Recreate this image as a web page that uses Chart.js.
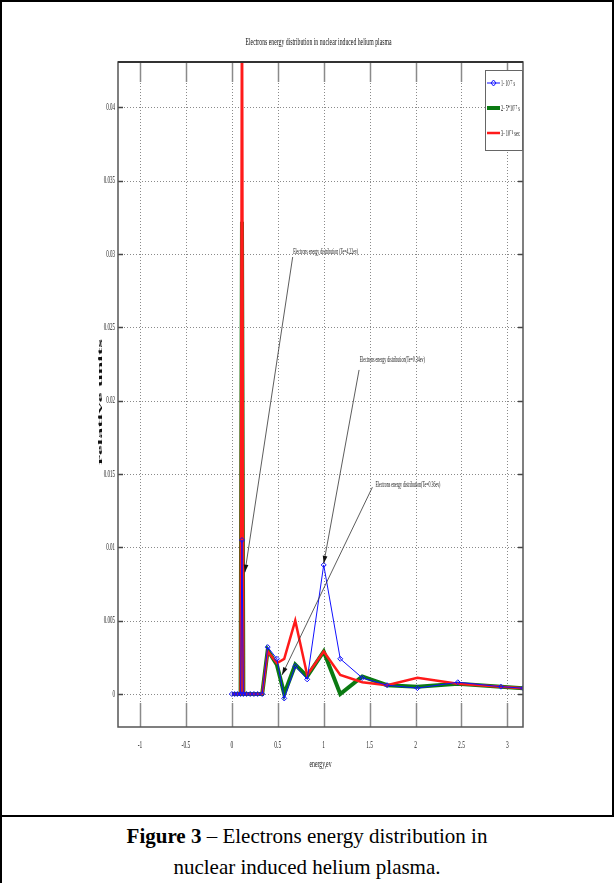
<!DOCTYPE html>
<html>
<head>
<meta charset="utf-8">
<script src="https://cdn.jsdelivr.net/npm/chart.js@4/dist/chart.umd.min.js"></script>
<style>
    body { margin: 0; background: #fff; width: 614px; height: 883px; overflow: hidden; position: relative; }
    #frame { position: absolute; left: 0; top: 0; width: 610px; height: 813px; border: 2px solid #000; }
    #leftRule { position: absolute; left: 0; top: 813px; width: 2px; height: 70px; background: #000; }
    #chart { position: absolute; left: 0; top: 0; }
    .caption { position: absolute; left: 0; width: 614px; text-align: center; font-family: 'Liberation Serif', serif; font-size: 21px; color: #000; }
</style>
</head>
<body>
<div id="frame"></div>
<div id="leftRule"></div>
<canvas id="chart" width="614" height="800"></canvas>
<div class="caption" style="top: 824px;"><b>Figure 3</b> – Electrons energy distribution in</div>
<div class="caption" style="top: 855px;">nuclear induced helium plasma.</div>

<script>
// ========== Data ==========

const energy = [0.0, 0.03, 0.06, 0.095, 0.11, 0.125, 0.16, 0.2, 0.24, 0.28, 0.33, 0.39, 0.49, 0.57, 0.69, 0.82, 1.0, 1.18, 1.42, 1.69, 2.02, 2.46, 2.93, 3.17];

const series1 = [0, 0, 0, 0, 0.0105, 0, 0, 0, 0, 0, 0, 0.0032, 0.0024, -0.0003, 0.0019, 0.0010, 0.0088, 0.0024, 0.0011, 0.0006, 0.0004, 0.0008, 0.0005, 0.0004];
const series2 = [0, 0, 0, 0, 0.0322, 0, 0, 0, 0, 0, 0, 0.0030, 0.0020, 0.0000, 0.0020, 0.0012, 0.0029, 0.0000, 0.0012, 0.0006, 0.0005, 0.0007, 0.0005, 0.0004];
const series3 = [0, 0, 0, 0, 0.0500, 0, 0, 0, 0, 0, 0, 0.0029, 0.0021, 0.0024, 0.0050, 0.0013, 0.0029, 0.0013, 0.0008, 0.0006, 0.0011, 0.0007, 0.0005, 0.0004];

const seriesLabels = ['1- 10⁻⁷ s', '2- 5*10⁻⁷ s', '3- 10⁻⁶ sec'];

const xTicks = [-1, -0.5, 0, 0.5, 1, 1.5, 2, 2.5, 3];
const yTicks = [0, 0.005, 0.01, 0.015, 0.02, 0.025, 0.03, 0.035, 0.04];

// annotation: text, text anchor (energy, value), arrow start, arrow tip
const noteTexts = [
    'Electrons energy distribution (Te=4.22ev)',
    'Electrons energy distribution(Te=0.34ev)',
    'Electrons energy distribution(Te=0.36ev)'
];
const noteAnchors = [[0.667, 0.0302], [1.392, 0.0228], [1.563, 0.0143]];
const noteStarts = [[0.662, 0.0298], [1.385, 0.0221], [1.530, 0.0141]];
const noteTips = [[0.142, 0.0083], [1.0, 0.0089], [0.546, 0.0013]];

// ========== Helpers ==========

function pointsOf(values) {
    return energy.map((e, i) => ({ x: e, y: values[i] }));
}

// draw text squeezed/stretched horizontally by a factor
function squish(ctx, text, x, y, sx, align) {
    ctx.save();
    ctx.translate(x, y);
    ctx.scale(sx, 1);
    ctx.textAlign = align;
    ctx.fillText(text, 0, 0);
    ctx.restore();
}

function fitText(ctx, text, x, y, width, align) {
    squish(ctx, text, x, y, width / ctx.measureText(text).width, align);
}

function tickText(v) {
    return String(Number(v.toFixed(3)));
}

const SERIF = "'Liberation Serif', serif";

// ========== Plot decoration ==========

const decor = {
    id: 'decor',
    beforeDatasetsDraw(chart) {
        const ctx = chart.ctx;
        const a = chart.chartArea;
        const xs = chart.scales.x, ys = chart.scales.y;
        ctx.save();
        // dotted grid
        ctx.strokeStyle = '#8a8a8a';
        ctx.lineWidth = 1;
        ctx.setLineDash([1, 2]);
        xTicks.forEach(v => {
            const px = Math.round(xs.getPixelForValue(v)) + 0.5;
            ctx.beginPath(); ctx.moveTo(px, a.top); ctx.lineTo(px, a.bottom); ctx.stroke();
        });
        yTicks.forEach(v => {
            const py = Math.round(ys.getPixelForValue(v)) + 0.5;
            ctx.beginPath(); ctx.moveTo(a.left, py); ctx.lineTo(a.right, py); ctx.stroke();
        });
        ctx.setLineDash([]);
        // inside ticks
        ctx.strokeStyle = '#8a8a8a';
        ctx.lineWidth = 1.5;
        xTicks.forEach(v => {
            const px = Math.round(xs.getPixelForValue(v)) + 0.5;
            ctx.beginPath(); ctx.moveTo(px, a.bottom); ctx.lineTo(px, a.bottom - 24); ctx.stroke();
            ctx.beginPath(); ctx.moveTo(px, a.top); ctx.lineTo(px, a.top + 20); ctx.stroke();
        });
        ctx.strokeStyle = '#444';
        yTicks.forEach(v => {
            const py = Math.round(ys.getPixelForValue(v)) + 0.5;
            ctx.beginPath(); ctx.moveTo(a.left, py); ctx.lineTo(a.left + 5, py); ctx.stroke();
            ctx.beginPath(); ctx.moveTo(a.right, py); ctx.lineTo(a.right - 5, py); ctx.stroke();
        });

        // tick labels, narrow like the original
        ctx.fillStyle = '#222';
        ctx.font = '10px ' + SERIF;
        ctx.textBaseline = 'middle';
        yTicks.forEach(v => {
            squish(ctx, tickText(v), a.left - 3, ys.getPixelForValue(v), 0.5, 'right');
        });
        xTicks.forEach(v => {
            squish(ctx, tickText(v), xs.getPixelForValue(v), a.bottom + 18, 0.55, 'center');
        });
        ctx.restore();
    },
    afterDatasetsDraw(chart) {
        const ctx = chart.ctx;
        const a = chart.chartArea;
        const xs = chart.scales.x, ys = chart.scales.y;
        ctx.save();

        // annotations with arrows
        ctx.strokeStyle = '#333';
        ctx.fillStyle = '#111';
        ctx.lineWidth = 0.8;
        noteTexts.forEach((t, i) => {
            const sx = xs.getPixelForValue(noteStarts[i][0]);
            const sy = ys.getPixelForValue(noteStarts[i][1]);
            const tx = xs.getPixelForValue(noteTips[i][0]);
            const ty = ys.getPixelForValue(noteTips[i][1]);
            ctx.beginPath(); ctx.moveTo(sx, sy); ctx.lineTo(tx, ty); ctx.stroke();
            const ang = Math.atan2(ty - sy, tx - sx);
            ctx.beginPath();
            ctx.moveTo(tx, ty);
            ctx.lineTo(tx - 8 * Math.cos(ang - 0.3), ty - 8 * Math.sin(ang - 0.3));
            ctx.lineTo(tx - 8 * Math.cos(ang + 0.3), ty - 8 * Math.sin(ang + 0.3));
            ctx.closePath();
            ctx.fill();

            ctx.font = '9px ' + SERIF;
            ctx.textBaseline = 'middle';
            fitText(ctx, t, xs.getPixelForValue(noteAnchors[i][0]), ys.getPixelForValue(noteAnchors[i][1]), 65, 'left');
        });

        // plot box
        ctx.strokeStyle = '#555';
        ctx.lineWidth = 1.5;
        ctx.strokeRect(a.left, a.top, a.right - a.left, a.bottom - a.top);
        ctx.strokeStyle = '#333';
        ctx.lineWidth = 2;
        ctx.beginPath(); ctx.moveTo(a.left, a.top); ctx.lineTo(a.right, a.top); ctx.stroke();

        // legend inside top right
        const lx = a.right - 38, ly = a.top + 8, lw = 37, lh = 80;
        ctx.fillStyle = '#fff';
        ctx.fillRect(lx, ly, lw, lh);
        ctx.strokeStyle = '#666';
        ctx.lineWidth = 1;
        ctx.strokeRect(lx + 0.5, ly + 0.5, lw, lh);
        chart.data.datasets.forEach((ds, i) => {
            const yy = ly + 13 + i * 25;
            ctx.strokeStyle = ds.borderColor;
            ctx.lineWidth = ds.borderWidth;
            ctx.beginPath(); ctx.moveTo(lx + 2, yy); ctx.lineTo(lx + 15, yy); ctx.stroke();
            if (ds.pointRadius > 0) {
                ctx.lineWidth = 1;
                ctx.beginPath();
                ctx.moveTo(lx + 8.5, yy - 3); ctx.lineTo(lx + 11, yy);
                ctx.lineTo(lx + 8.5, yy + 3); ctx.lineTo(lx + 6, yy); ctx.closePath();
                ctx.stroke();
            }
            ctx.fillStyle = '#111';
            ctx.font = '9px ' + SERIF;
            ctx.textBaseline = 'middle';
            fitText(ctx, ds.label, lx + 16, yy + 1, i === 0 ? 14 : 19, 'left');
        });

        ctx.restore();
    },
    afterDraw(chart) {
        const ctx = chart.ctx;
        const a = chart.chartArea;
        ctx.save();
        ctx.fillStyle = '#111';
        ctx.textBaseline = 'middle';
        // title
        ctx.font = '11px ' + SERIF;
        fitText(ctx, 'Electrons energy distribution in nuclear induced helium plasma', (a.left + a.right) / 2 - 2, 42, 146, 'center');
        // x title
        ctx.font = '10px ' + SERIF;
        fitText(ctx, 'energy,ev', (a.left + a.right) / 2, 764, 22, 'center');
        // y title
        ctx.save();
        ctx.translate(100, 402);
        ctx.rotate(-Math.PI / 2);
        ctx.font = 'bold 7px ' + SERIF;
        fitText(ctx, 'relative units', 0, 0, 126, 'center');
        ctx.restore();
        ctx.restore();
    }
};

// ========== Chart ==========

function initChart() {
    const ctx = document.getElementById('chart').getContext('2d');
    new Chart(ctx, {
        type: 'line',
        data: {
            datasets: [
                {
                    label: seriesLabels[0],
                    data: pointsOf(series1),
                    borderColor: '#1010ff',
                    borderWidth: 1,
                    pointStyle: 'rectRot',
                    pointRadius: 2.5,
                    pointBorderColor: '#1010ff',
                    pointBackgroundColor: 'rgba(0,0,0,0)',
                    pointBorderWidth: 1,
                    order: 0
                },
                {
                    label: seriesLabels[1],
                    data: pointsOf(series2),
                    borderColor: '#0b7a12',
                    borderWidth: 4,
                    pointRadius: 0,
                    order: 2
                },
                {
                    label: seriesLabels[2],
                    data: pointsOf(series3),
                    borderColor: '#ff1a1a',
                    borderWidth: 2.5,
                    pointRadius: 0,
                    order: 1
                }
            ]
        },
        options: {
            responsive: false,
            animation: false,
            devicePixelRatio: 1,
            layout: { padding: { top: 62, right: 91, left: 0, bottom: 0 } },
            elements: { line: { tension: 0 } },
            plugins: { legend: { display: false }, tooltip: { enabled: false } },
            scales: {
                x: {
                    type: 'linear',
                    min: -1.24,
                    max: 3.17,
                    afterBuildTicks: s => { s.ticks = xTicks.map(v => ({ value: v })); },
                    afterFit: s => { s.height = 73; },
                    grid: { display: false, drawTicks: false },
                    border: { display: false },
                    ticks: { display: false }
                },
                y: {
                    type: 'linear',
                    min: -0.00225,
                    max: 0.0431,
                    afterBuildTicks: s => { s.ticks = yTicks.map(v => ({ value: v })); },
                    afterFit: s => { s.width = 118; },
                    grid: { display: false, drawTicks: false },
                    border: { display: false },
                    ticks: { display: false }
                }
            }
        },
        plugins: [decor]
    });
}

document.addEventListener('DOMContentLoaded', initChart);
</script>
</body>
</html>
